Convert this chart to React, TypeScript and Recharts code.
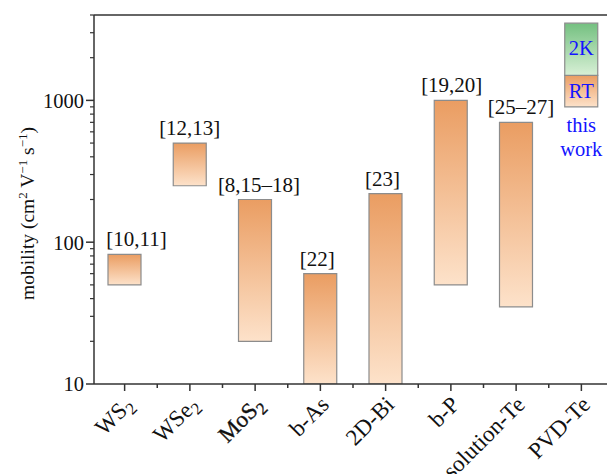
import React from 'react';
import { BarChart, Bar, XAxis, YAxis, LabelList, Label, ReferenceLine } from 'recharts';

const categories = ['WS2', 'WSe2', 'MoS2', 'b-As', '2D-Bi', 'b-P', 'solution-Te', 'PVD-Te'];
const lowValues = [50, 250, 20, 10, 10, 50, 35, 900];
const highValues = [82, 500, 200, 60, 220, 1000, 700, 1500];
const low2K = [null, null, null, null, null, null, null, 1500];
const high2K = [null, null, null, null, null, null, null, 3500];
const citeLabels = ['[10,11]', '[12,13]', '[8,15–18]', '[22]', '[23]', '[19,20]', '[25–27]', 'RT'];
const label2K = ['', '', '', '', '', '', '', '2K'];
const thisWorkLines = ['this', 'work'];
const yMajorTicks = [10, 100, 1000];
const yMinorTicks = [20, 30, 40, 50, 60, 70, 80, 90, 200, 300, 400, 500, 600, 700, 800, 900, 2000, 3000, 4000];
const yAllTicks = [...yMajorTicks, ...yMinorTicks].sort((a, b) => a - b);
const yDomain = [10, 4000];

const data = categories.map((name, i) => ({
  name,
  range: [lowValues[i], highValues[i]],
  k2: low2K[i] != null ? [low2K[i], high2K[i]] : null,
  cite: citeLabels[i],
  k2label: label2K[i],
}));

const FONT = '"Liberation Serif", "Times New Roman", serif';
const AXIS = '#333';
const BLUE = '#1414ff';
const labelShift = [12, 0, 4, -3, -3, 1, 5, 0];
const TICK_SIZE = 8;
const TICK_MARGIN = 2;

const XTick = (props: any) => {
  const { x, y, payload } = props;
  const name: string = payload.value;
  const m = name.match(/^([A-Za-z]+)(\d)$/);
  const heavy = name === 'MoS2';
  const axisY = y - TICK_SIZE - TICK_MARGIN;
  const half = payload.offset || 32.6;
  return (
    <g>
      <line x1={x} x2={x} y1={axisY} y2={axisY + 7} stroke={AXIS} strokeWidth={1.5} />
      <line x1={x + half} x2={x + half} y1={axisY} y2={axisY + 4} stroke={AXIS} strokeWidth={1.5} />
      <g transform={`translate(${x + 10},${y + 12}) rotate(-45)`}>
        <text
          textAnchor="end"
          fontFamily={FONT}
          fontSize={23}
          fill="#111"
          stroke={heavy ? '#111' : 'none'}
          strokeWidth={heavy ? 0.35 : 0}
        >
          {m ? (
            <>
              {m[1]}
              <tspan dy={5} fontSize={17}>{m[2]}</tspan>
            </>
          ) : (
            name
          )}
        </text>
      </g>
    </g>
  );
};

const YTick = (props: any) => {
  const { x, y, payload } = props;
  const v = payload.value;
  const major = yMajorTicks.includes(v);
  const axisX = x + TICK_SIZE + TICK_MARGIN;
  return (
    <g>
      <line x1={axisX - (major ? 8 : 4)} x2={axisX} y1={y} y2={y} stroke={AXIS} strokeWidth={major ? 1.5 : 1.2} />
      {major && (
        <text x={x} y={y} dy="0.36em" textAnchor="end" fontFamily={FONT} fontSize={20.5} fill="#111">
          {v}
        </text>
      )}
    </g>
  );
};

const CiteLabel = (props: any) => {
  const vb = props.viewBox || {};
  const x = props.x ?? vb.x;
  const y = props.y ?? vb.y;
  const width = props.width ?? vb.width;
  const height = props.height ?? vb.height;
  const index = props.index;
  const value = props.value;
  const cx = x + width / 2;
  if (index === categories.length - 1) {
    return (
      <g>
        <text x={cx} y={y + height / 2 + 7} textAnchor="middle" fontFamily={FONT} fontSize={20.5} fill={BLUE}>
          {value}
        </text>
        {thisWorkLines.map((t, k) => (
          <text key={t} x={cx} y={y + height + 25 + k * 24} textAnchor="middle" fontFamily={FONT} fontSize={20.5} fill={BLUE}>
            {t}
          </text>
        ))}
      </g>
    );
  }
  return (
    <text x={cx + (labelShift[index] || 0)} y={y - 8} textAnchor="middle" fontFamily={FONT} fontSize={21} fill="#111">
      {value}
    </text>
  );
};

const K2Label = (props: any) => {
  const vb = props.viewBox || {};
  const x = props.x ?? vb.x;
  const y = props.y ?? vb.y;
  const width = props.width ?? vb.width;
  const height = props.height ?? vb.height;
  if (!props.value) return null;
  return (
    <text x={x + width / 2} y={y + height / 2 + 6} textAnchor="middle" fontFamily={FONT} fontSize={20.5} fill={BLUE}>
      {props.value}
    </text>
  );
};

const YLabel = (props: any) => {
  const vb = props.viewBox || {};
  const cy = vb.y + vb.height / 2 + 14;
  const bx = 26;
  return (
    <text
      transform={`translate(${bx},${cy}) rotate(-90)`}
      textAnchor="middle"
      fontFamily={FONT}
      fontSize={19.5}
      fill="#111"
    >
      mobility (cm
      <tspan dy={-7} fontSize={13}>2</tspan>
      <tspan dy={7}> V</tspan>
      <tspan dy={-7} fontSize={13}>−1</tspan>
      <tspan dy={7}> s</tspan>
      <tspan dy={-7} fontSize={13}>−1</tspan>
      <tspan dy={7}>)</tspan>
    </text>
  );
};

export default function App() {
  return (
    <>
      <style>{'body{margin:8px 0 0 8px;}'}</style>
      <div style={{ width: 599, height: 466, overflow: 'hidden' }}>
        <BarChart
          width={610}
          height={466}
          data={data}
          margin={{ top: 7, right: 4, bottom: 0, left: 0 }}
          barGap={-33}
        >
          <defs>
            <linearGradient id="orangeGrad" x1="0" y1="0" x2="0" y2="1">
              <stop offset="0%" stopColor="#EA9D62" />
              <stop offset="100%" stopColor="#FDE2CA" />
            </linearGradient>
            <linearGradient id="greenGrad" x1="0" y1="0" x2="0" y2="1">
              <stop offset="0%" stopColor="#74C080" />
              <stop offset="100%" stopColor="#D8F0D6" />
            </linearGradient>
          </defs>
          <XAxis
            xAxisId="main"
            dataKey="name"
            interval={0}
            tick={<XTick />}
            tickSize={TICK_SIZE}
            tickMargin={TICK_MARGIN}
            axisLine={{ stroke: AXIS, strokeWidth: 1.5 }}
            tickLine={false}
            height={90}
            padding={{ left: -2, right: 0 }}
          />
          <YAxis
            yAxisId="main"
            type="number"
            scale="log"
            domain={yDomain}
            ticks={yAllTicks}
            interval={0}
            tickSize={TICK_SIZE}
            tickMargin={TICK_MARGIN}
            width={86}
            axisLine={{ stroke: AXIS, strokeWidth: 1.5 }}
            tickLine={false}
            tick={<YTick />}
            allowDataOverflow
          >
            <Label content={<YLabel />} />
          </YAxis>
          <ReferenceLine xAxisId="main" yAxisId="main" y={4000} stroke={AXIS} strokeWidth={1.5} />
          <Bar
            xAxisId="main"
            yAxisId="main"
            dataKey="range"
            fill="url(#orangeGrad)"
            stroke="#8c8c8c"
            strokeWidth={1.2}
            barSize={33}
            isAnimationActive={false}
          >
            <LabelList dataKey="cite" content={<CiteLabel />} />
          </Bar>
          <Bar
            xAxisId="main"
            yAxisId="main"
            dataKey="k2"
            fill="url(#greenGrad)"
            stroke="#8c8c8c"
            strokeWidth={1.2}
            barSize={33}
            isAnimationActive={false}
          >
            <LabelList dataKey="k2label" content={<K2Label />} />
          </Bar>
        </BarChart>
      </div>
    </>
  );
}
